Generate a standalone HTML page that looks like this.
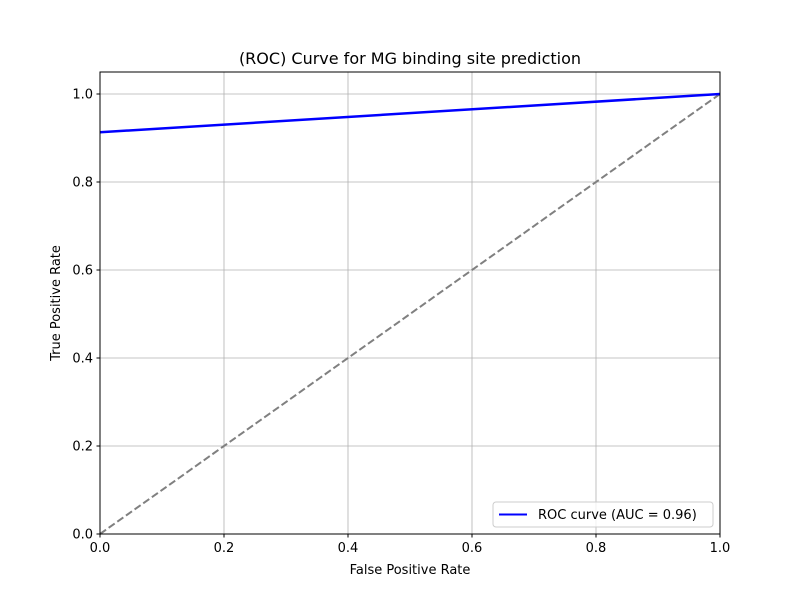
<!DOCTYPE html>
<html><head><meta charset="utf-8"><style>
html,body{margin:0;padding:0;background:#fff;}
svg{display:block;font-family:"DejaVu Sans","Liberation Sans",sans-serif;}
</style></head><body>
<svg id="chart" width="800" height="600" viewBox="0 0 800 600">
<rect width="800" height="600" fill="#fff"/>
<g id="grid"></g>
<g id="marks"></g>
<rect x="100" y="72" width="620" height="462" fill="none" stroke="#000" stroke-width="1"/>
<g id="ticks" font-size="13" fill="#000"></g>
<text x="410" y="64" text-anchor="middle" font-size="16">(ROC) Curve for MG binding site prediction</text>
<text x="410" y="574" text-anchor="middle" font-size="13">False Positive Rate</text>
<text transform="translate(60,303) rotate(-90)" text-anchor="middle" font-size="13">True Positive Rate</text>
<g>
<rect x="493" y="502" width="220" height="25" rx="3" fill="#fff" fill-opacity="0.8" stroke="#ccc"/>
<line x1="499" y1="514.5" x2="527" y2="514.5" stroke="#0000ff" stroke-width="2"/>
<text x="538" y="519" font-size="13">ROC curve (AUC = 0.96)</text>
</g>
</svg>
<script>
const xTicks=[0,0.2,0.4,0.6,0.8,1.0];
const yTicks=[0,0.2,0.4,0.6,0.8,1.0];
const rocFpr=[0,1];
const rocTpr=[0.913,1];
const diagX=[0,1];
const diagY=[0,1];
const X0=100,X1=720,Y0=534,Y1=72,YMAX=1.05;
const sx=v=>X0+v*(X1-X0);
const sy=v=>Y0-v/YMAX*(Y0-Y1);
const NS="http://www.w3.org/2000/svg";
const grid=document.getElementById('grid'),ticks=document.getElementById('ticks'),marks=document.getElementById('marks');
function mk(tag,attrs,parent){const e=document.createElementNS(NS,tag);for(const k in attrs)e.setAttribute(k,attrs[k]);parent.appendChild(e);return e;}
xTicks.forEach(t=>{
 const x=sx(t);
 const g=mk('line',{x1:x,x2:x,y1:Y1,y2:Y0,stroke:'#b0b0b0','stroke-width':0.8},grid);
 
 
 const tk=mk('line',{x1:x,x2:x,y1:Y0,y2:Y0+3.5,stroke:'#000'},ticks);
 
 
 const tx=mk('text',{x:x,y:Y0+18,'text-anchor':'middle'},ticks);
 tx.textContent=t.toFixed(1);
 
 
});
yTicks.forEach(t=>{
 const y=sy(t);
 const g=mk('line',{x1:X0,x2:X1,y1:y,y2:y,stroke:'#b0b0b0','stroke-width':0.8},grid);
 
 
 const tk=mk('line',{x1:X0-3.5,x2:X0,y1:y,y2:y,stroke:'#000'},ticks);
 
 
 const tx=mk('text',{x:X0-7,y:y+4.5,'text-anchor':'end'},ticks);
 tx.textContent=t.toFixed(1);
 
 
});
const d=mk('polyline',{points:diagX.map((v,i)=>sx(v)+','+sy(diagY[i])).join(' '),fill:'none',stroke:'#808080','stroke-width':2,'stroke-dasharray':'7.4,3.2'},marks);


const r=mk('polyline',{points:rocFpr.map((v,i)=>sx(v)+','+sy(rocTpr[i])).join(' '),fill:'none',stroke:'#0000ff','stroke-width':2.5},marks);


</script>
</body></html>
